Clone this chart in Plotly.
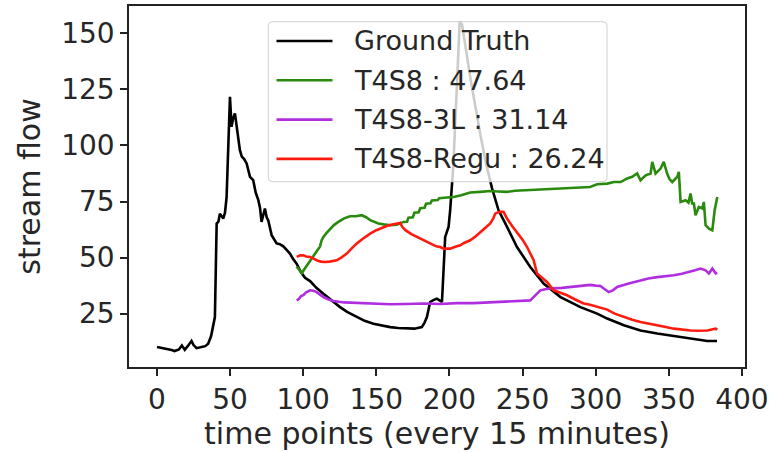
import plotly.graph_objects as go

# ---------------- data ----------------
gt_x = [0, 5, 10, 12, 15, 17, 19, 21, 23.6, 25, 27, 30.5, 33, 35, 37, 39.6, 40.8, 42, 43, 45.3,
        46.5, 47.6, 49, 49.9, 51, 52, 53.3, 54.2, 54.9, 56.7, 58, 59.5, 61.3, 62.5, 63.6, 65.8,
        67.5, 69.3, 70.5, 71.5, 72.8, 73.8, 75, 76.1, 78.4, 80, 81.8, 84, 86.4, 88.5, 90.9, 93,
        95.5, 98, 101.2, 104.7, 109, 113.8, 120, 125.2, 130, 136.6, 142, 148, 154, 159.5, 165,
        170.9, 176, 181.1, 183, 184.6, 186.8, 189, 191.4, 193, 194.9, 197.1, 199.4, 200.5, 202.6,
        205, 207, 208.6, 214.2, 221, 225, 229.1, 233.6, 239.4, 246.2, 255.3, 264.4, 276, 289.6,
        301, 307.9, 319.3, 330.7, 342.1, 353.5, 364.9, 376.4, 383]
gt_y = [10.1, 9.5, 8.8, 8.3, 9, 10.8, 8.9, 10.5, 12.8, 11, 9.6, 10.1, 10.5, 11.6, 15, 23.5, 65.2, 66, 69.6, 67.4,
        70, 77, 105, 121.7, 108.3, 112, 114.3, 110, 108.3, 97.9, 95, 94, 92, 88, 86, 84.5,
        79, 75.6, 72, 65.9, 70, 71.9, 68, 66.6, 60, 58, 56.3, 56, 55, 53.5, 51.8, 49.5,
        47.3, 44, 41, 39.5, 36.5, 33.9, 30.5, 27.9, 25.8, 23.5, 21.8, 20.5, 19.6, 19, 18.6,
        18.3, 18.3, 19, 21, 23.5, 30.2, 31, 31.7, 31, 30.2, 59.2, 63.7, 71.1, 90.4,
        125, 155, 154, 130.6, 105.4, 92, 81, 71.1, 63.7, 54.7, 45.8, 38.4, 32.4, 27.9,
        25, 22.8, 19.8, 17.5, 16.1, 14.9, 13.8, 12.8, 12.8]

t4s8_x = [95.5, 97.5, 99, 101, 103, 104.7, 107, 108, 109.2, 111.5, 112.5, 113.8, 116, 118.4, 121, 124,
          128, 132, 136, 140, 143, 145.8, 148, 151.4, 155, 159.5, 164, 168.6, 171, 172, 175, 176,
          179, 180, 183, 184, 187, 188, 192, 193, 198.3, 202.8, 208, 214.2, 221, 227.9, 233,
          239.4, 245, 250.8, 256, 262.2, 270, 280.5, 286, 291.8, 296.2, 301, 307.9, 312.5, 317.1,
          321.6, 325, 328.4, 330.7, 334.2, 337.6, 338.7, 341, 344.4, 346.6, 348.9, 350.5, 352.4,
          355.8, 356.9, 358.1, 361.5, 363.5, 364.9, 366, 367.2, 368.3, 370.6, 372.9, 374, 375.2,
          377.5, 379.8, 381.4, 383.2]
t4s8_y = [46, 44.5, 43, 45, 47, 48.8, 50.5, 52, 53.3, 55, 57.5, 59.2, 61, 62.9, 64.5, 65.9,
          67.5, 68.4, 68.4, 68.9, 68, 66.7, 66, 65.2, 64.8, 64.4, 64.6, 65.9, 66, 67.8, 68, 70,
          70.2, 72, 72.2, 74, 74.2, 75.5, 75.7, 76.5, 76.8, 77, 77.8, 79, 79.3, 79.7, 79.5,
          79.3, 79.8, 80, 80.2, 80.4, 80.6, 80.8, 81, 81.5, 81.5, 82.7, 83, 83.7, 83.7,
          85.3, 86, 87.5, 84.5, 86.7, 87.5, 92.7, 87.5, 89.7, 92.7, 87.5, 85, 83.7,
          86, 88.2, 74.8, 75.6, 74.5, 78.6, 74.1, 74.1, 68.9, 72.6, 71.9, 74.8, 64.4,
          62.9, 62.2, 71.1, 77]

t4s8_3l_x = [95.5, 97, 98.5, 100.1, 102, 104.7, 107, 109.2, 111.5, 113.8, 117, 120.6, 128, 136.6, 148,
             159.5, 170, 182.3, 193.7, 205.1, 216.5, 228, 239.4, 248, 255.3, 257, 258.8, 260.5, 262.2,
             265.5, 269.1, 277, 284.9, 290, 296.4, 300, 303.3, 306, 309, 312, 314.7, 322, 330.7, 336,
             342.1, 348, 353.5, 359, 364.9, 368, 371.8, 373.5, 375.2, 377.5, 379.8, 381, 382.1, 383.2]
t4s8_3l_y = [30.9, 31.5, 32.8, 33.2, 34.5, 35.4, 35.2, 34.6, 33.5, 32.4, 31.4, 30.6, 30, 29.7, 29.4,
             29.2, 29.3, 29.5, 29.3, 29.7, 29.7, 30, 30.2, 30.6, 30.9, 32, 33.2, 34.5, 35.4,
             35.9, 36.2, 36.5, 36.9, 37.2, 37.8, 37.5, 37.3, 36, 34.6, 35.5, 36.9, 38.3, 39.9, 40.7,
             41.3, 41.7, 42.1, 42.8, 43.6, 44.3, 45.1, 44.8, 44.3, 42.9, 45.1, 44, 42.9, 43.2]

t4s8_regu_x = [95.5, 98, 100.1, 102, 104.7, 107, 109.2, 112, 114.9, 118, 122.9, 126, 129.8, 133, 136.6,
               141, 145.8, 150, 155, 158, 161.7, 164, 166.3, 168, 169.9, 174, 177.7, 182, 186.8, 191,
               193.7, 196, 200.5, 204, 207.4, 210, 214.2, 218, 221, 225, 227.9, 230, 231.3, 234, 237,
               239.4, 243, 246.2, 250, 253.1, 255.5, 257.6, 259.9, 263, 266.7, 271.3, 276, 280.5, 286,
               291.8, 296.2, 303.3, 307.9, 313, 319.3, 325, 330.7, 336, 342.1, 348, 353.5, 359, 364.9,
               370, 376.4, 380, 382.1, 383.2]
t4s8_regu_y = [50.3, 51, 51, 50.5, 50.3, 49.5, 48.8, 48.2, 48, 48.2, 48.8, 50, 51.8, 54, 56.3,
               58.5, 60.7, 62.2, 63.7, 64.3, 64.9, 65.2, 65.4, 63.5, 62.2, 60.5, 59.2, 57.8, 56.3, 55,
               54.7, 54, 54, 54.8, 55.5, 56.5, 57.7, 59.5, 61.4, 63.5, 65.2, 67.5, 69.6, 70.4, 70.4,
               67.4, 64, 61.4, 58, 54.7, 51.5, 48.8, 42.9, 41, 39.1, 35.4, 34.2, 33.2, 31.3,
               29.5, 29, 27.8, 26.8, 25, 23.5, 22.3, 21.3, 20.5, 19.8, 19, 18.3, 17.8, 17.5,
               17.4, 17.5, 18, 18.3, 17.8]

x_ticks = [0, 50, 100, 150, 200, 250, 300, 350, 400]
y_ticks = [25, 50, 75, 100, 125, 150]
x_range = [-19.15, 402.15]
y_range = [1.2, 162.2]

series_names = ["Ground Truth", "T4S8 : 47.64", "T4S8-3L : 31.14", "T4S8-Regu : 26.24"]
series_colors = ["#000000", "#2a8a0e", "#b02ee0", "#ff1a0e"]
series_x = [gt_x, t4s8_x, t4s8_3l_x, t4s8_regu_x]
series_y = [gt_y, t4s8_y, t4s8_3l_y, t4s8_regu_y]

# ---------------- figure ----------------
W, H = 775, 452
ML, MR, MT, MB = 129, 30, 6, 85
PW, PH = W - ML - MR, H - MT - MB
FONT = "DejaVu Sans"
TXT = "#262626"
LW = 2.6

fig = go.Figure()
for xs, ys, name, col in zip(series_x, series_y, series_names, series_colors):
    fig.add_trace(go.Scatter(x=xs, y=ys, mode="lines", name=name,
                             line=dict(color=col, width=LW), showlegend=False))


def px(xp):
    return (xp - ML) / PW


def py(yp):
    return (H - MB - yp) / PH


# custom matplotlib-like legend (rounded, semi-transparent frame)
lx0, lx1, ly0, ly1, r = 268.3, 607.0, 21.7, 181.7, 4
path = (f"M {px(lx0 + r)},{py(ly0)} L {px(lx1 - r)},{py(ly0)} Q {px(lx1)},{py(ly0)} {px(lx1)},{py(ly0 + r)} "
        f"L {px(lx1)},{py(ly1 - r)} Q {px(lx1)},{py(ly1)} {px(lx1 - r)},{py(ly1)} "
        f"L {px(lx0 + r)},{py(ly1)} Q {px(lx0)},{py(ly1)} {px(lx0)},{py(ly1 - r)} "
        f"L {px(lx0)},{py(ly0 + r)} Q {px(lx0)},{py(ly0)} {px(lx0 + r)},{py(ly0)} Z")
fig.add_shape(type="path", path=path, xref="paper", yref="paper", layer="above",
              fillcolor="rgba(255,255,255,0.8)", line=dict(color="#d0d0d0", width=1))
row_y = [41.0, 80.3, 119.6, 158.9]
for name, col, ry in zip(series_names, series_colors, row_y):
    fig.add_shape(type="line", xref="paper", yref="paper", layer="above",
                  x0=px(276.5), x1=px(332.5), y0=py(ry), y1=py(ry),
                  line=dict(color=col, width=LW))
    fig.add_annotation(x=px(351.5), y=py(ry), xref="paper", yref="paper", text=name,
                       showarrow=False, xanchor="left", yanchor="middle",
                       font=dict(family=FONT, size=27, color=TXT))

axis_common = dict(showline=True, mirror=True, linecolor="#222222", linewidth=1.5,
                   ticks="outside", ticklen=7, tickwidth=1.5, tickcolor="#222222",
                   showgrid=False, zeroline=False,
                   tickfont=dict(family=FONT, size=28, color=TXT))

fig.update_layout(
    width=W, height=H, margin=dict(l=ML, r=MR, t=MT, b=MB, autoexpand=False),
    paper_bgcolor="white", plot_bgcolor="white",
    xaxis=dict(range=x_range, tickvals=x_ticks, **axis_common,
               title=dict(text="time points (every 15 minutes)", standoff=8,
                          font=dict(family=FONT, size=30, color=TXT))),
    yaxis=dict(range=y_range, tickvals=y_ticks, **axis_common,
               title=dict(text="stream flow", standoff=12,
                          font=dict(family=FONT, size=30, color=TXT))),
)

fig.write_html("out.html", config={"displayModeBar": False},
               post_script="document.body.style.margin='0';")
